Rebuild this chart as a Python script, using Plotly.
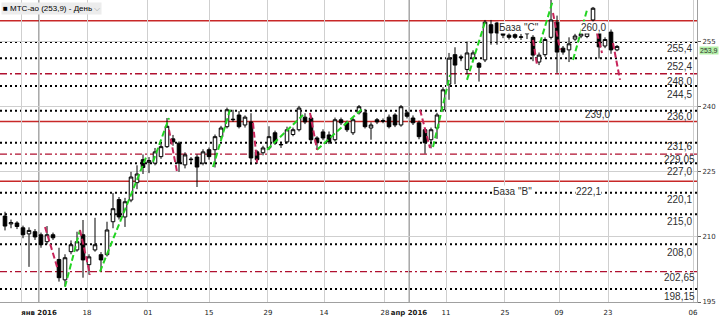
import plotly.graph_objects as go

# ---- daily candles (slot index = trading day) ----
opens = [214.8, 213.0, 213.2, 212.1, 210.7, 211.2, 210.5, 208.9, 210.5, 204.8,
         200.1, 206.6, 207.0, 210.5, 203.6, 207.0, 205.9, 205.9, 213.5, 218.6,
         214.6, 218.5, 222.5, 227.8, 227.2, 227.0, 228.5, 230.8, 232.6, 231.6,
         226.6, 227.8, 228.4, 227.0, 230.1, 230.1, 233.1, 235.4, 237.0, 238.1,
         235.8, 236.5, 229.6, 229.4, 230.5, 234.0, 231.2, 231.9, 233.6, 234.7,
         237.6, 237.4, 232.8, 234.2, 233.5, 232.4, 237.0, 236.3, 234.0, 238.6,
         238.6, 235.1, 237.0, 236.6, 237.6, 238.1, 235.8, 238.6, 237.4, 236.3,
         234.7, 232.4, 235.1, 239.3, 245.2, 252.0, 251.5, 248.6, 251.2, 250.0,
         250.8, 258.9, 259.3, 257.0, 256.5, 256.6, 256.0, 256.8, 256.0, 250.3,
         252.0, 256.0, 259.5, 253.5, 253.1, 255.6, 256.3, 256.2, 260.0, 257.2,
         254.0, 257.2, 253.1]
highs = [215.8, 214.0, 213.6, 212.6, 212.2, 211.8, 211.0, 212.5, 211.0, 207.5,
         206.0, 209.2, 211.2, 213.9, 206.0, 214.4, 206.5, 213.5, 220.1, 219.2,
         219.0, 225.0, 226.5, 229.0, 228.4, 230.5, 231.5, 237.4, 233.5, 232.0,
         229.5, 228.4, 229.0, 230.2, 230.6, 233.6, 235.6, 239.8, 239.3, 239.0,
         238.0, 238.5, 230.0, 231.0, 235.5, 234.5, 232.0, 235.4, 235.2, 240.2,
         238.5, 238.0, 233.2, 234.8, 234.3, 237.5, 237.5, 236.8, 237.5, 240.4,
         239.5, 236.4, 237.4, 237.3, 238.2, 238.5, 240.4, 239.0, 238.0, 236.8,
         235.0, 235.2, 238.6, 244.5, 252.4, 253.7, 252.0, 255.0, 253.0, 250.3,
         260.0, 260.0, 259.5, 258.0, 257.0, 257.0, 256.8, 257.2, 256.5, 252.5,
         256.0, 264.6, 261.0, 254.0, 256.0, 256.8, 257.5, 257.5, 263.0, 258.5,
         256.0, 257.8, 254.2]
lows = [211.5, 212.0, 211.8, 209.7, 203.1, 209.3, 207.5, 208.3, 209.3, 199.7,
        198.6, 206.0, 206.6, 200.6, 201.3, 206.6, 202.0, 205.5, 212.0, 214.0,
        212.3, 218.0, 221.0, 224.5, 224.7, 226.5, 228.0, 230.5, 231.0, 225.0,
        225.8, 227.2, 221.5, 226.5, 227.8, 226.0, 232.6, 235.0, 236.5, 235.0,
        235.2, 226.6, 226.8, 228.8, 230.0, 231.2, 230.5, 231.5, 233.2, 234.3,
        236.0, 231.8, 230.1, 232.3, 231.4, 232.0, 235.8, 234.2, 233.5, 238.2,
        235.0, 232.4, 236.0, 236.2, 235.0, 235.3, 235.4, 237.3, 235.8, 232.5,
        229.2, 230.4, 232.6, 238.8, 241.6, 245.2, 250.5, 247.5, 250.8, 245.8,
        250.3, 254.3, 254.3, 255.8, 255.5, 255.6, 255.4, 255.6, 250.5, 249.6,
        251.5, 255.5, 247.8, 252.0, 250.3, 255.2, 255.8, 255.8, 257.5, 251.1,
        253.5, 252.2, 252.8]
closes = [212.5, 213.3, 212.4, 210.5, 211.5, 210.0, 208.2, 210.5, 209.8, 200.6,
          205.2, 208.2, 208.9, 204.7, 205.4, 208.2, 204.7, 211.6, 216.5, 214.6,
          218.1, 223.8, 224.5, 226.0, 227.6, 229.6, 230.8, 235.5, 231.9, 227.0,
          228.9, 227.9, 226.1, 229.6, 228.5, 233.1, 235.1, 239.3, 237.1, 235.4,
          237.6, 228.2, 227.8, 230.5, 233.1, 231.7, 231.3, 234.7, 234.7, 239.7,
          236.5, 232.4, 231.7, 232.8, 231.9, 237.0, 236.3, 234.7, 237.0, 240.0,
          235.4, 235.8, 236.5, 236.8, 235.4, 235.8, 240.0, 237.8, 236.3, 233.1,
          231.7, 234.7, 238.1, 243.9, 251.2, 249.6, 251.3, 252.4, 252.4, 249.1,
          259.5, 257.0, 257.0, 256.5, 256.0, 256.0, 256.1, 256.9, 251.9, 251.9,
          255.5, 260.0, 252.6, 252.6, 254.5, 256.3, 256.8, 257.0, 262.7, 253.8,
          255.5, 253.1, 253.9]
slots = list(range(len(closes)))

# ---- wave indicator segments: (start slot, start price, end slot, end price) ----
up_waves = [(10, 198.5, 12.5, 211.6), (15.83, 202.0, 23.67, 228.9), (24.67, 227.3, 27.33, 237.4),
            (34.67, 226.1, 37.5, 239.3), (43.67, 230.1, 49.67, 238.1), (52, 230.1, 59.67, 239.7),
            (71.33, 230.7, 74.17, 247.3), (77, 246.2, 80, 259.5), (89.17, 254.7, 91.33, 264.6),
            (94.67, 250.8, 97, 262.3)]
down_waves = [(6.67, 212.3, 8.83, 202.4), (12.5, 211.6, 14.17, 201.3), (27.33, 234.7, 28.67, 225.0),
              (41.33, 236.3, 42, 227.1), (50.83, 238.6, 52, 230.1), (69.17, 239.3, 70.83, 230.5),
              (88, 255.4, 88.67, 249.6), (91.33, 261.6, 92.5, 253.1), (98.67, 257.0, 99.5, 252.4),
              (101.33, 254.7, 102.5, 246.2)]

# ---- horizontal levels ----
solid_levels = [259.8, 236.6, 222.8]
dashdot_levels = [247.6, 229.1, 202.0]
dotted_levels = [254.9, 251.2, 244.8, 239.1, 231.7, 227.0, 220.2, 215.2, 208.3, 198.0]
level_label_text = ["255,4", "252,4", "248,0", "244,5", "236,0", "231,6", "229,05",
                    "227,0", "220,1", "215,0", "208,0", "202,65", "198,15"]
level_label_at = [254.9, 251.2, 247.6, 244.8, 236.6, 231.7, 229.1,
                  227.0, 220.2, 215.2, 208.3, 202.0, 198.0]
# label placement relative to its line, in pixels below the line
label_drop_px = [6, 8, 8, 9, -5, 4, 5, 8, 7, 7, 8, 6, 8]

# ---- axes ----
x_tick_pos = [2.83, 5.67, 13.67, 23.83, 34.0, 43.83, 53.17, 63.33, 67.33, 73.5, 83.33, 92.33, 100.5, 114.67]
x_tick_text = ["", "<b>янв 2016</b>", "18", "01", "15", "29", "14", "28", "<b>апр 2016</b>",
               "11", "25", "09", "23", "06"]
month_pos = [5.67, 67.33]
y_ticks = [195, 210, 225, 240, 255]
last_price = 253.9

fig = go.Figure()

# level lines
for v in solid_levels:
    fig.add_shape(type="line", xref="paper", x0=0, x1=1, y0=v, y1=v,
                  line=dict(color="#c82828", width=1.5), layer="below")
for v in dashdot_levels:
    fig.add_shape(type="line", xref="paper", x0=0, x1=1, y0=v, y1=v,
                  line=dict(color="#b01030", width=1.3, dash="7px,3px,2px,3px"), layer="below")
for v in dotted_levels:
    fig.add_shape(type="line", xref="paper", x0=0, x1=1, y0=v, y1=v,
                  line=dict(color="#000000", width=2, dash="2px,3px"), layer="below")
for p in month_pos:
    fig.add_shape(type="line", yref="paper", x0=p, x1=p, y0=0, y1=1,
                  line=dict(color="#505050", width=1), layer="below")

fig.add_trace(go.Candlestick(
    x=slots, open=opens, high=highs, low=lows, close=closes,
    increasing=dict(line=dict(color="#000000", width=1), fillcolor="#ffffff"),
    decreasing=dict(line=dict(color="#000000", width=1), fillcolor="#000000"),
    whiskerwidth=0, showlegend=False, hoverinfo="skip"))

def seg_xy(segs):
    xs, ys = [], []
    for a, b, c, d in segs:
        xs += [a, c, None]
        ys += [b, d, None]
    return xs, ys

ux, uy = seg_xy(up_waves)
dx, dy = seg_xy(down_waves)
fig.add_trace(go.Scatter(x=ux, y=uy, mode="lines", showlegend=False, hoverinfo="skip",
                         line=dict(color="#22d422", width=2, dash="6px,3px")))
fig.add_trace(go.Scatter(x=dx, y=dy, mode="lines", showlegend=False, hoverinfo="skip",
                         line=dict(color="#c8245a", width=2, dash="6px,3px")))

lab_font = dict(family="Liberation Sans, Arial, sans-serif", size=10, color="#303030")
for t, v, d in zip(level_label_text, level_label_at, label_drop_px):
    fig.add_annotation(x=112.4, y=v, text=t, showarrow=False, xanchor="center",
                       yanchor="middle", yshift=-d, font=lab_font)

fig.add_annotation(x=98.7, y=239.1, text="239,0", showarrow=False, yanchor="middle", yshift=-4,
                   font=lab_font)
fig.add_annotation(x=85.7, y=258.2, text="База \"С\"", showarrow=False, font=lab_font,
                   bgcolor="#ffffff", borderpad=0)
fig.add_annotation(x=98.1, y=258.2, text="260,0", showarrow=False, font=lab_font,
                   bgcolor="#ffffff", borderpad=0)
fig.add_annotation(x=84.6, y=220.4, text="База \"В\"", showarrow=False, font=lab_font,
                   bgcolor="#ffffff", borderpad=0)
fig.add_annotation(x=97.25, y=220.4, text="222,1", showarrow=False, font=lab_font,
                   bgcolor="#ffffff", borderpad=0)

# title box
fig.add_annotation(xref="paper", yref="paper", x=0.002, y=0.995, xanchor="left", yanchor="top",
                   text="■ МТС-ао (253,9) - День <span style='color:#a0a0a0'>⌵</span>",
                   showarrow=False, bgcolor="#ececec", borderpad=1,
                   font=dict(family="Liberation Sans, Arial, sans-serif", size=8, color="#000000"))
# current price marker
fig.add_annotation(xref="paper", x=1.0, y=last_price, xanchor="left", yanchor="top", text="253,9",
                   showarrow=False, bgcolor="#b4f0a8", borderpad=0, xshift=2,
                   font=dict(family="Liberation Sans, Arial, sans-serif", size=7, color="#303030"))

fig.update_layout(
    width=720, height=320, margin=dict(l=0, r=23, t=0, b=18, autoexpand=False),
    paper_bgcolor="#ffffff", plot_bgcolor="#ffffff", boxgap=0.15,
    xaxis=dict(range=[-0.833, 115.33], tickvals=x_tick_pos, ticktext=x_tick_text,
               tickangle=0, automargin=False, ticklabelstandoff=4,
               showgrid=True, gridcolor="#cfcfcf", gridwidth=1, zeroline=False,
               showline=True, linecolor="#a0a0a0", ticks="",
               tickfont=dict(family="DejaVu Sans, sans-serif", size=7, color="#202020"),
               rangeslider=dict(visible=False), fixedrange=True),
    yaxis=dict(range=[195.0, 264.6], side="right", tickvals=y_ticks, automargin=False,
               showgrid=True, gridcolor="#cfcfcf", gridwidth=1, zeroline=False,
               showline=True, linecolor="#a0a0a0", ticks="outside", ticklen=3,
               tickcolor="#606060",
               tickfont=dict(family="DejaVu Sans, sans-serif", size=7, color="#303030")),
)

fig.write_html("out.html")
